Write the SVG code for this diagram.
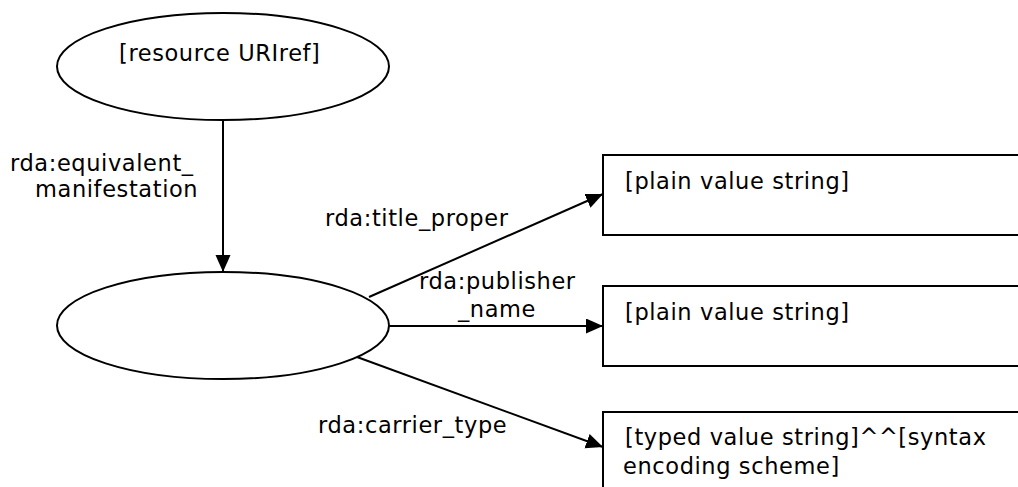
<svg xmlns="http://www.w3.org/2000/svg" width="1018" height="487" viewBox="0 0 1018 487">
<style>
.shape{fill:#fff;stroke:#000;stroke-width:2}
.edge{stroke:#000;stroke-width:2;fill:none}
text{font-family:"DejaVu Sans","Liberation Sans",sans-serif;font-size:22.5px;letter-spacing:0.6px;fill:#000}
</style>
<defs>
<marker id="arrow" markerUnits="userSpaceOnUse" markerWidth="18" markerHeight="16" refX="17" refY="7.5" orient="auto">
<path d="M0,0 L17,7.5 L0,15 z" fill="#000"/>
</marker>
</defs>
<rect width="1018" height="487" fill="#fff"/>
<g id="resource">
<ellipse class="shape" cx="223" cy="66.5" rx="166" ry="53.5"/>
<text x="119" y="61">[resource URIref]</text>
</g>
<g id="manifestation">
<ellipse class="shape" cx="223" cy="325.5" rx="166" ry="53.5"/>
</g>
<g id="title">
<rect class="shape" x="603" y="155" width="430" height="80"/>
<text x="625" y="189">[plain value string]</text>
</g>
<g id="publisher">
<rect class="shape" x="603" y="286" width="430" height="80"/>
<text x="625" y="320">[plain value string]</text>
</g>
<g id="carrier">
<rect class="shape" x="603" y="412" width="430" height="100"/>
<text x="625" y="445">[typed value string]^^[syntax</text>
<text x="623" y="474">encoding scheme]</text>
</g>
<g id="connectors">
<line class="edge" x1="223" y1="120" x2="223" y2="272" marker-end="url(#arrow)"/>
<line class="edge" x1="369" y1="297" x2="603" y2="194" marker-end="url(#arrow)"/>
<line class="edge" x1="389" y1="326" x2="603" y2="326" marker-end="url(#arrow)"/>
<line class="edge" x1="357" y1="357" x2="603" y2="447" marker-end="url(#arrow)"/>
<text x="10" y="171">rda:equivalent_</text>
<text x="35" y="197">manifestation</text>
<text x="325" y="226">rda:title_proper</text>
<text x="419" y="289">rda:publisher</text>
<text x="458" y="317">_name</text>
<text x="318" y="433">rda:carrier_type</text>
</g>
</svg>
